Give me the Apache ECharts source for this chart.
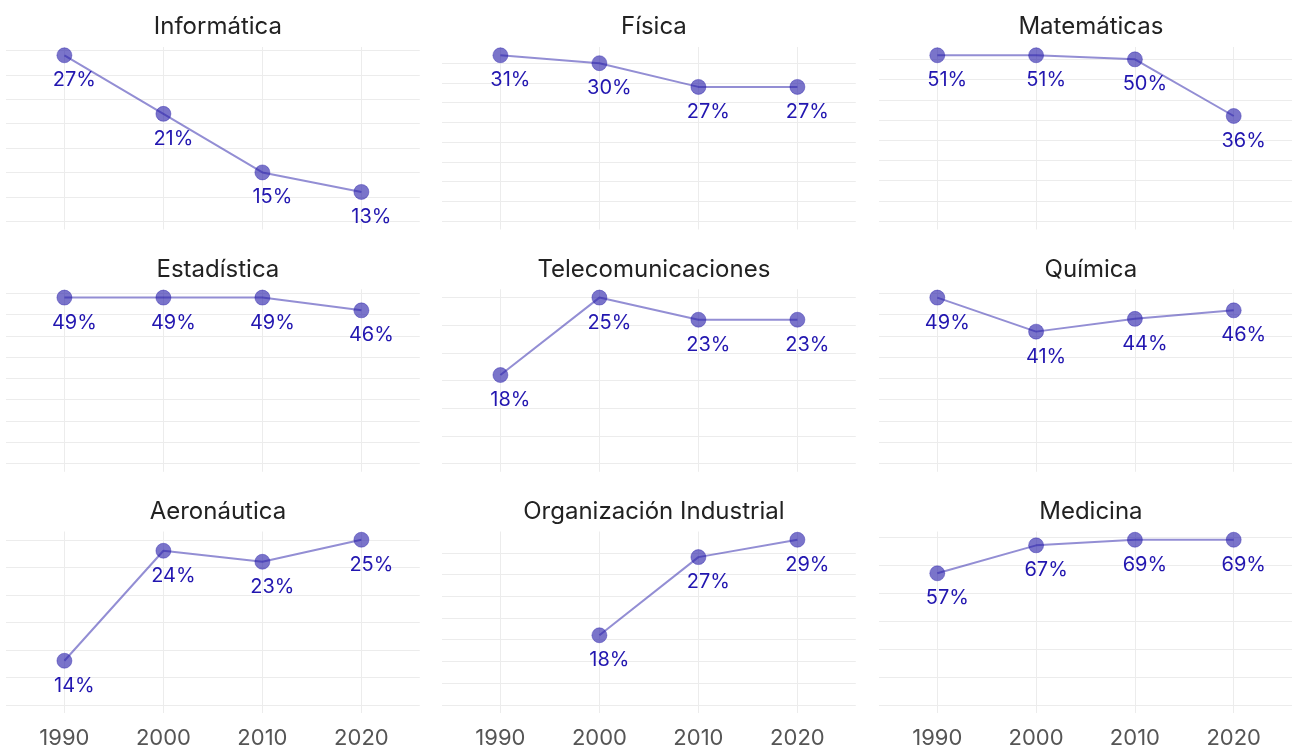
<!DOCTYPE html>
<html>
<head>
<meta charset="utf-8">
<script src="https://cdn.jsdelivr.net/npm/echarts@6.0.0/dist/echarts.min.js"></script>
<style>
  html, body { margin: 0; padding: 0; background: #fff; }
  #chart { width: 1292px; height: 749px; }
</style>
</head>
<body>
<div id="chart"></div>
<script>
// datos (% de mujeres por carrera)
const years = [1990, 2000, 2010, 2020]
const carreras = ['Informática', 'Física', 'Matemáticas', 'Estadística', 'Telecomunicaciones',
  'Química', 'Aeronáutica', 'Organización Industrial', 'Medicina']

const informatica = [27, 21, 15, 13]
const fisica = [31, 30, 27, 27]
const matematicas = [51, 51, 50, 36]
const estadistica = [49, 49, 49, 46]
const telecomunicaciones = [18, 25, 23, 23]
const quimica = [49, 41, 44, 46]
const aeronautica = [14, 24, 23, 25]
const organizacion = [null, 18, 27, 29]
const medicina = [57, 67, 69, 69]

// paso de las lineas horizontales de cada panel
const pasoGrid = [2.5, 2.5, 5, 5, 2.5, 5, 2.5, 2.5, 10]

const valores = [informatica, fisica, matematicas, estadistica, telecomunicaciones,
  quimica, aeronautica, organizacion, medicina]

const font = 'Inter'
const colLeft = [6, 442, 879]
const rowTop = [47, 289.3, 531.5]
const panelW = 413.8
const panelH = 182.5

var chart = echarts.init(document.getElementById('chart'))

var grids = [], xAxes = [], yAxes = [], series = [], titles = []

carreras.forEach(function (nombre, i) {
  var fila = Math.floor(i / 3)
  var col = i % 3
  var datos = valores[i]
  var maximo = Math.max.apply(null, datos.filter(function (v) { return v !== null }))
  var exp = 0.05 * (maximo - 10)

  var ticks = []
  for (var t = 10; t <= maximo + exp; t += pasoGrid[i]) ticks.push(t)

  grids.push({ left: colLeft[col], top: rowTop[fila], width: panelW, height: panelH })

  titles.push({
    text: nombre,
    left: colLeft[col] + panelW / 2,
    top: rowTop[fila] - 37,
    textAlign: 'center',
    textStyle: { fontFamily: font, fontSize: 24, fontWeight: 'normal', color: '#222' }
  })

  xAxes.push({
    type: 'value', gridIndex: i, min: 1984.1, max: 2025.9,
    axisLine: { show: false },
    axisTick: { show: false, customValues: years },
    axisLabel: {
      show: fila === 2, customValues: years, margin: 14,
      formatter: function (v) { return String(v) },
      fontFamily: font, fontSize: 22, color: '#555'
    },
    splitLine: { show: true, lineStyle: { color: '#ececec', width: 1 } }
  })

  yAxes.push({
    type: 'value', gridIndex: i, min: 10 - exp, max: maximo + exp,
    axisLine: { show: false },
    axisTick: { show: false, customValues: ticks },
    axisLabel: { show: false, customValues: ticks },
    splitLine: { show: true, lineStyle: { color: '#ececec', width: 1 } }
  })

  var puntos = []
  years.forEach(function (y, j) {
    if (datos[j] !== null) puntos.push([y, datos[j]])
  })

  series.push({
    type: 'line', xAxisIndex: i, yAxisIndex: i,
    data: puntos,
    symbol: 'circle', symbolSize: 15,
    lineStyle: { color: 'rgba(40,30,170,0.5)', width: 2 },
    itemStyle: { color: 'rgba(40,30,170,0.62)', borderColor: 'rgba(40,30,170,0.4)', borderWidth: 1 },
    label: {
      show: true, position: 'inside', offset: [10, 25],
      formatter: function (p) { return p.value[1] + '%' },
      fontFamily: font, fontSize: 20, color: '#2216b0'
    },
    emphasis: { disabled: true },
    animation: false
  })
})

chart.setOption({
  backgroundColor: '#fff',
  animation: false,
  title: titles,
  grid: grids,
  xAxis: xAxes,
  yAxis: yAxes,
  series: series
})
</script>
</body>
</html>
